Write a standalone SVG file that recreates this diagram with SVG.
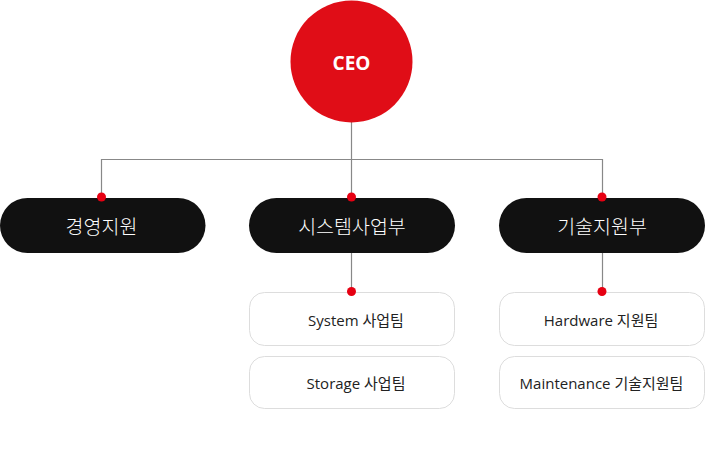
<svg xmlns="http://www.w3.org/2000/svg" width="705" height="473" viewBox="0 0 705 473">
<style>
.ln{stroke:#888;stroke-width:1.2;fill:none}
.dot{fill:#e60012}
.pill{fill:#111}
.box{fill:#fff;stroke:#ddd;stroke-width:1}
.pt{font-family:"Noto Sans CJK KR","Open Sans",sans-serif;font-size:19.5px;font-weight:300;fill:#fff;text-anchor:middle;dominant-baseline:central}
.bt{font-family:"Open Sans","Noto Sans CJK KR",sans-serif;font-size:15px;fill:#222;text-anchor:middle;dominant-baseline:central}
</style>
<rect width="705" height="473" fill="#fff"/>
<g id="connectors">
<path class="ln" d="M351.5 120V197M101.5 197V159.5H602.5V197M351.5 253V291M602.5 253V291"/>
</g>
<g id="ceo">
<circle cx="351.5" cy="61.5" r="61" fill="#e00d17"/>
<text x="351.5" y="63" font-family="Open Sans,sans-serif" font-weight="bold" font-size="19" fill="#fff" text-anchor="middle" dominant-baseline="central">CEO</text>
</g>
<g id="mgmt">
<rect class="pill" x="0" y="198" width="205.5" height="55" rx="27.5"/>
<text class="pt" x="101.5" y="225">경영지원</text>
</g>
<g id="system">
<rect class="pill" x="249" y="198" width="206" height="55" rx="27.5"/>
<text class="pt" x="352" y="225">시스템사업부</text>
</g>
<g id="tech">
<rect class="pill" x="499" y="198" width="206" height="55" rx="27.5"/>
<text class="pt" x="602" y="225">기술지원부</text>
</g>
<g id="system-team">
<rect class="box" x="249.5" y="292.5" width="205" height="53" rx="15"/>
<text class="bt" x="356" y="319.5">System 사업팀</text>
</g>
<g id="storage-team">
<rect class="box" x="249.5" y="356.5" width="205" height="52" rx="15"/>
<text class="bt" x="356" y="383">Storage 사업팀</text>
</g>
<g id="hardware-team">
<rect class="box" x="499.5" y="292.5" width="205" height="53" rx="15"/>
<text class="bt" x="601" y="319.5">Hardware 지원팀</text>
</g>
<g id="maintenance-team">
<rect class="box" x="499.5" y="356.5" width="205" height="52" rx="15"/>
<text class="bt" x="601.5" y="382.5">Maintenance 기술지원팀</text>
</g>
<g id="dots">
<circle class="dot" cx="101.5" cy="197" r="4.5"/>
<circle class="dot" cx="351.5" cy="197" r="4.5"/>
<circle class="dot" cx="602" cy="197" r="4.5"/>
<circle class="dot" cx="351.5" cy="291.5" r="4.5"/>
<circle class="dot" cx="602" cy="291.5" r="4.5"/>
</g>
</svg>
